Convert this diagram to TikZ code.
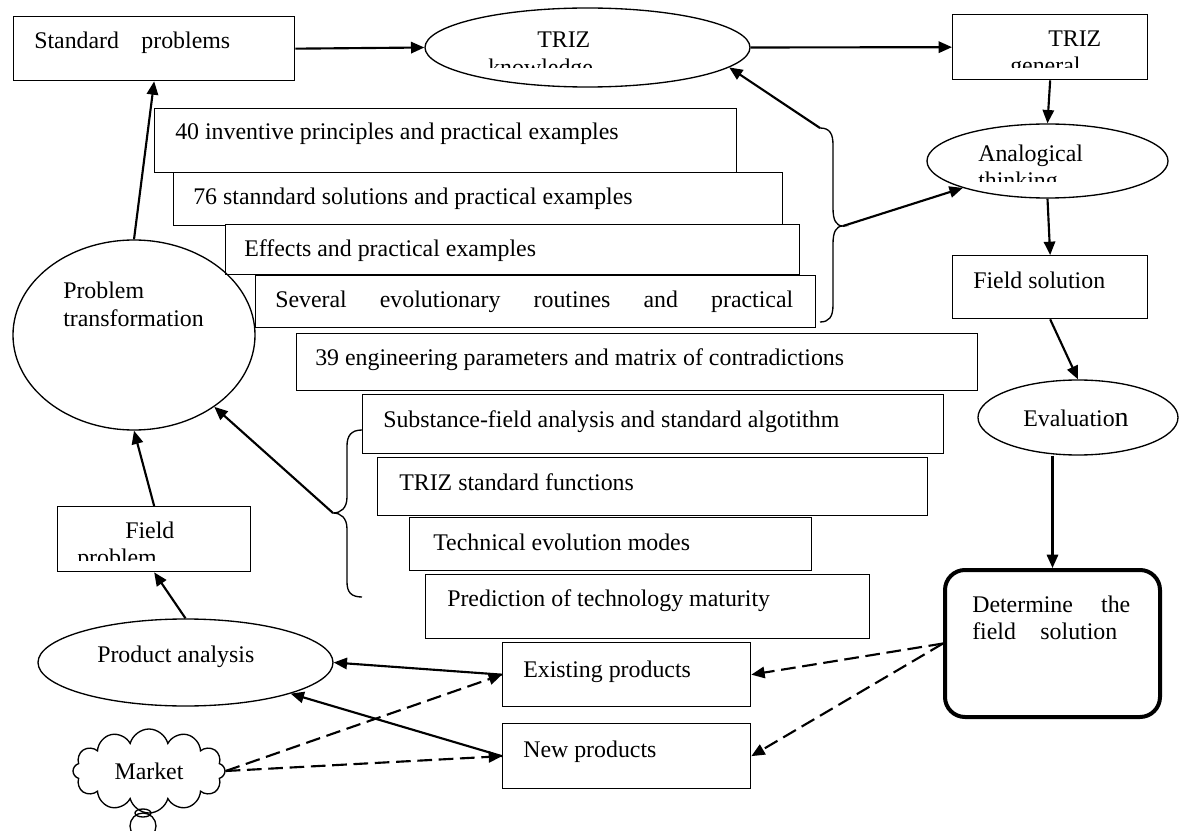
\documentclass[tikz,border=0pt]{standalone}
\usepackage{fontspec}
\setmainfont{Liberation Serif}
\usetikzlibrary{shapes.geometric,shapes.symbols,arrows.meta}
\begin{document}
\begin{tikzpicture}[x=0.75pt,y=-0.75pt,
  every node/.style={font=\fontsize{17.9}{21}\selectfont},
  sz/.style 2 args={minimum width={#1*0.75pt},minimum height={#2*0.75pt}},
  box/.style={draw, line width=1pt, fill=white, rectangle, inner sep=0pt, anchor=north west},
  oval/.style={draw, line width=1pt, fill=white, ellipse, inner sep=0pt},
  lbl/.style={anchor=base west, inner sep=0pt},
  arr/.style={line width=1.6pt, -{Triangle[length=10pt,width=8.5pt]}},
  darr/.style={arr, dash pattern=on 11pt off 5pt},
  brace/.style={line width=1pt}
]
\useasboundingbox (0,0) rectangle (1179,831);

% ---------- top row ----------
\node[box, sz={281}{64}] (std) at (13,16) {};
\node[lbl] (stdt) at (34,49) {\makebox[147pt][s]{Standard problems}};

\node[oval, sz={325}{79}] (know) at (587.5,47.5) {};
\node[lbl] (knowt) at (537,48) {TRIZ};
\begin{scope}
  \clip (425,0) rectangle (750,68);
  \node[lbl] (knowt2) at (488,76) {knowledge};
\end{scope}

\node[box, sz={195}{65}] (gen) at (952,14) {};
\node[lbl] (gent) at (1048,47) {TRIZ};
\begin{scope}
  \clip (952,0) rectangle (1147,68);
  \node[lbl] (gent2) at (1010,74) {general};
\end{scope}

% ---------- right column ----------
\node[oval, sz={241}{74}] (ana) at (1047.5,161) {};
\node[lbl] (anat) at (978,162) {Analogical};
\begin{scope}
  \clip (927,124) rectangle (1168,182);
  \node[lbl] (anat2) at (978,189) {thinking};
\end{scope}

\node[box, sz={195}{63}] (fs) at (952,255) {};
\node[lbl] (fst) at (973,288) {Field solution};

\node[oval, sz={200}{75}] (eva) at (1078,417.5) {};
\node[lbl] (evat) at (1023,426) {Evaluatio{\fontsize{21}{21}\selectfont n}};

\node[draw, line width=3pt, rounded corners=15pt, fill=white, anchor=north west,
      inner sep=0pt, sz={215}{147}] (det) at (943,568) {};
\node[lbl] (dett1) at (972,612) {\makebox[118.5pt][s]{Determine the}};
\node[lbl] (dett2) at (972,639) {\makebox[108.8pt][s]{field solution}};

% ---------- stack of knowledge boxes ----------
\node[box, sz={582}{64}] (b40) at (154,108) {};
\node[lbl] (t40) at (175,140) {40 inventive principles and practical examples};
\node[box, sz={609}{53}] (b76) at (173,172) {};
\node[lbl] (t76) at (193,205) {76 stanndard solutions and practical examples};
\node[box, sz={574}{50}] (beff) at (225,224) {};
\node[lbl] (teff) at (244,257) {Effects and practical examples};
\node[box, sz={560}{52}] (bsev) at (255,275) {};
\node[lbl] (tsev) at (275,307) {\makebox[388.5pt][s]{Several evolutionary routines and practical}};
\node[box, sz={681}{57}] (b39) at (296,333) {};
\node[lbl] (t39) at (315,365) {39 engineering parameters and matrix of contradictions};
\node[box, sz={581}{59}] (bsub) at (362,394) {};
\node[lbl] (tsub) at (383,427) {Substance-field analysis and standard algotithm};
\node[box, sz={550}{58}] (bstd) at (377,457) {};
\node[lbl] (tstd) at (399,490) {TRIZ standard functions};
\node[box, sz={402}{53}] (btec) at (409,517) {};
\node[lbl] (ttec) at (433,550) {Technical evolution modes};
\node[box, sz={444}{64}] (bpre) at (425,574) {};
\node[lbl] (tpre) at (447,606) {Prediction of technology maturity};

\node[box, sz={248}{64}] (ex) at (502,642) {};
\node[lbl] (ext) at (523,677) {Existing products};
\node[box, sz={248}{65}] (nw) at (502,723) {};
\node[lbl] (nwt) at (523,757) {New products};

% ---------- left column ----------
\node[draw, line width=1pt, ellipse, inner sep=0pt, sz={242}{190}] (pt) at (134,335) {};
\node[lbl] (ptt1) at (63,298) {Problem};
\node[lbl] (ptt2) at (63,326) {transformation};

\node[box, sz={193}{65}] (fp) at (57,506) {};
\node[lbl] (fpt) at (125,538) {Field};
\begin{scope}
  \clip (57,506) rectangle (250,560);
  \node[lbl] (fpt2) at (77,565) {problem};
\end{scope}

\node[oval, sz={295}{87}] (pa) at (185.5,662.5) {};
\node[lbl] (pat) at (97,662) {Product analysis};

\node[draw, line width=1pt, fill=white, cloud, cloud puffs=12, aspect=1.8,
      inner sep=0pt, sz={152}{84}] (mk) at (149,771) {Market};
\draw[line width=1pt, fill=white] (143,826) circle[radius=13];
\draw[line width=1pt] (143,813) ellipse[x radius=8, y radius=4];

% ---------- braces ----------
\coordinate (rbtop) at (820,128);
\coordinate (rbtip) at (843,226);
\coordinate (rbbot) at (820,322);
\draw[brace] (rbtop) .. controls (830,128) and (833,134) .. (833,145)
  -- (833,208) .. controls (833,220) and (836,226) .. (rbtip)
  .. controls (836,226) and (833,232) .. (833,244)
  -- (833,305) .. controls (833,317) and (829,322) .. (rbbot);

\coordinate (lbtop) at (362,430);
\coordinate (lbtip) at (333,513);
\coordinate (lbbot) at (362,597);
\draw[brace] (lbtop) .. controls (351,430) and (347,436) .. (347,446)
  -- (347,497) .. controls (347,508) and (341,513) .. (lbtip)
  .. controls (341,513) and (347,518) .. (347,529)
  -- (347,582) .. controls (347,592) and (351,597) .. (lbbot);

% ---------- connectors ----------
\draw[arr] (std.east) -- (know.west);
\draw[arr] (know.east) -- (gen.west);
\draw[arr] (gen.south) -- (ana.north);
\draw[arr] (ana.south) -- (fs.north);
\draw[arr] (fs.south) -- (eva.north);
\draw[arr] (eva.south -| det.north) -- (det.north);
\draw[darr] (det.west) -- (ex.east);
\draw[darr] (det.west) -- (nw.east);
\draw[arr] (ex.west) -- (pa.east);
\draw[arr] (nw.west) -- (pa);
\draw[darr] (mk.east) -- (ex.west);
\draw[darr] (mk.east) -- (nw.west);
\draw[arr] (pa.north) -- (fp.south);
\draw[arr] (fp.north) -- (pt.south);
\draw[arr] (pt.north) -- (std.south);
\draw[arr] (lbtip) -- (pt);
\draw[arr] (rbtop) -- (know.-8);
\draw[arr] (rbtip) -- (ana);
\end{tikzpicture}
\end{document}
